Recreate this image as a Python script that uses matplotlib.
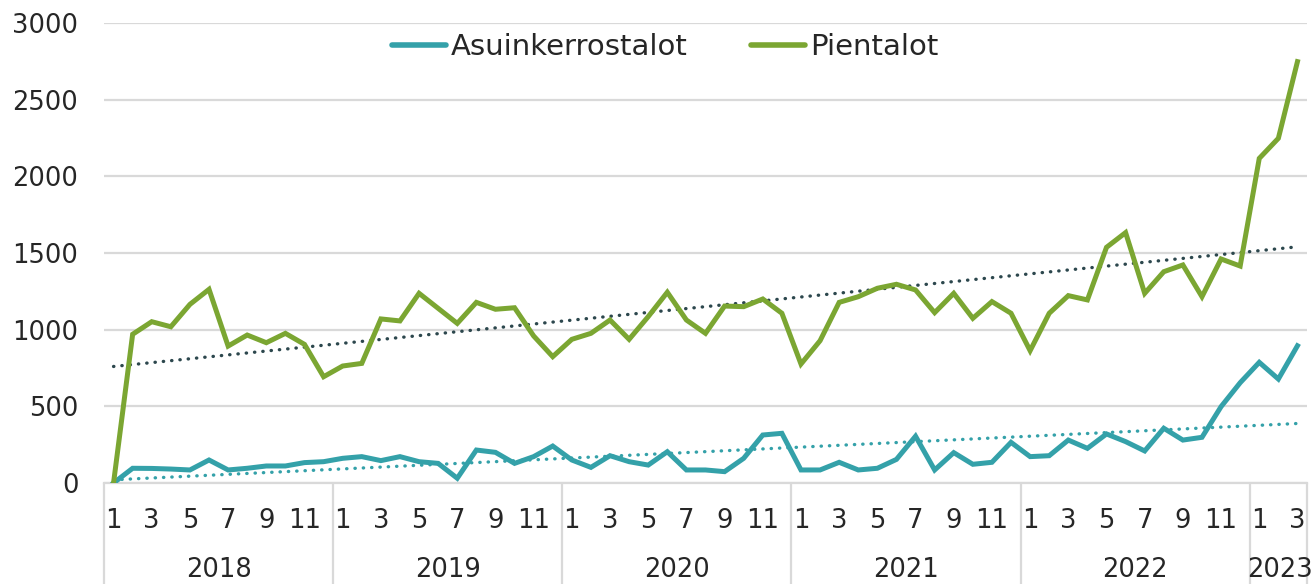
import numpy as np
import matplotlib
matplotlib.use("Agg")
import matplotlib.pyplot as plt
from matplotlib.transforms import blended_transform_factory

years = ["2018", "2019", "2020", "2021", "2022", "2023"]
months_per_year = [12, 12, 12, 12, 12, 3]

pientalot = [
    0, 970, 1052, 1019, 1165, 1263, 893, 965, 915, 976, 904, 693,
    763, 780, 1070, 1057, 1237, 1139, 1041, 1178, 1133, 1143, 959, 824,
    937, 976, 1063, 937, 1085, 1244, 1063, 976, 1154, 1150, 1200, 1107,
    776, 928, 1178, 1215, 1270, 1296, 1259, 1111, 1237, 1074, 1183, 1107,
    863, 1107, 1222, 1194, 1537, 1633, 1237, 1378, 1422, 1215, 1461, 1415,
    2117, 2248, 2748,
]
asuinkerrostalot = [
    0, 96, 95, 91, 85, 150, 85, 96, 111, 111, 133, 139,
    161, 172, 146, 172, 139, 128, 31, 215, 200, 128, 172, 241,
    150, 102, 178, 139, 117, 204, 85, 85, 74, 161, 313, 324,
    85, 85, 135, 85, 96, 154, 305, 85, 198, 122, 135, 265,
    172, 178, 280, 226, 320, 270, 209, 357, 280, 298, 498, 654,
    787, 678, 895,
]

c_teal = "#34A1A9"
c_green = "#7BA632"
c_trend_dark = "#2C474D"
c_text = "#262626"
c_grid = "#D9D9D9"

fig = plt.figure(figsize=(13.14, 5.84), dpi=100)
ax = fig.add_axes([104 / 1314, 1 - 483 / 584, 1203 / 1314, 460 / 584])

x = np.arange(len(pientalot))
fs = 18.5

ax.plot(x, asuinkerrostalot, color=c_teal, lw=3.6, solid_joinstyle="miter",
        label="Asuinkerrostalot", zorder=3)
ax.plot(x, pientalot, color=c_green, lw=3.6, solid_joinstyle="miter",
        label="Pientalot", zorder=3)

# linear trendlines
for series, col in [(asuinkerrostalot, c_teal), (pientalot, c_trend_dark)]:
    k, b = np.polyfit(x, series, 1)
    ax.plot(x, k * x + b, color=col, lw=2.4, linestyle=(0, (0.1, 2.4)),
            dash_capstyle="round", zorder=2)

ax.set_xlim(-0.5, len(pientalot) - 0.5)
ax.set_ylim(0, 3000)
ax.set_yticks(np.arange(0, 3001, 500))
ax.yaxis.grid(True, color=c_grid, lw=1.6, zorder=0)
ax.tick_params(axis="y", length=0, labelsize=fs, labelcolor=c_text, pad=18.5)
for s in ["top", "right", "left"]:
    ax.spines[s].set_visible(False)
ax.spines["bottom"].set_color(c_grid)
ax.spines["bottom"].set_linewidth(1.6)

# year boundaries as long major ticks, month labels as minor ticks
bounds = np.concatenate([[0], np.cumsum(months_per_year)]) - 0.5
ax.set_xticks(bounds)
ax.set_xticklabels([])
ax.tick_params(axis="x", which="major", length=76, width=1.6, color=c_grid)

month_pos, month_lab = [], []
start = 0
for n in months_per_year:
    for m in range(1, n + 1, 2):
        month_pos.append(start + m - 1)
        month_lab.append(str(m))
    start += n
ax.set_xticks(month_pos, minor=True)
ax.set_xticklabels(month_lab, minor=True)
ax.tick_params(axis="x", which="minor", length=0, labelsize=fs,
               labelcolor=c_text, pad=18)

trans = blended_transform_factory(ax.transData, fig.transFigure)
for i, yr in enumerate(years):
    cx = (bounds[i] + bounds[i + 1]) / 2
    if yr == "2023":
        cx += 0.1
    ax.text(cx, 1 - 570 / 584, yr, transform=trans, ha="center", va="center",
            fontsize=fs, color=c_text)

leg = ax.legend(loc="center", bbox_to_anchor=(665 / 1314, 1 - 47 / 584),
                bbox_transform=fig.transFigure, ncol=2, frameon=False,
                fontsize=21, handlelength=1.85, handletextpad=0.15,
                columnspacing=2.2)
for t in leg.get_texts():
    t.set_color(c_text)
for h in leg.get_lines():
    h.set_solid_capstyle("round")
    h.set_linewidth(4.0)

fig.savefig("out.png", dpi=100)
